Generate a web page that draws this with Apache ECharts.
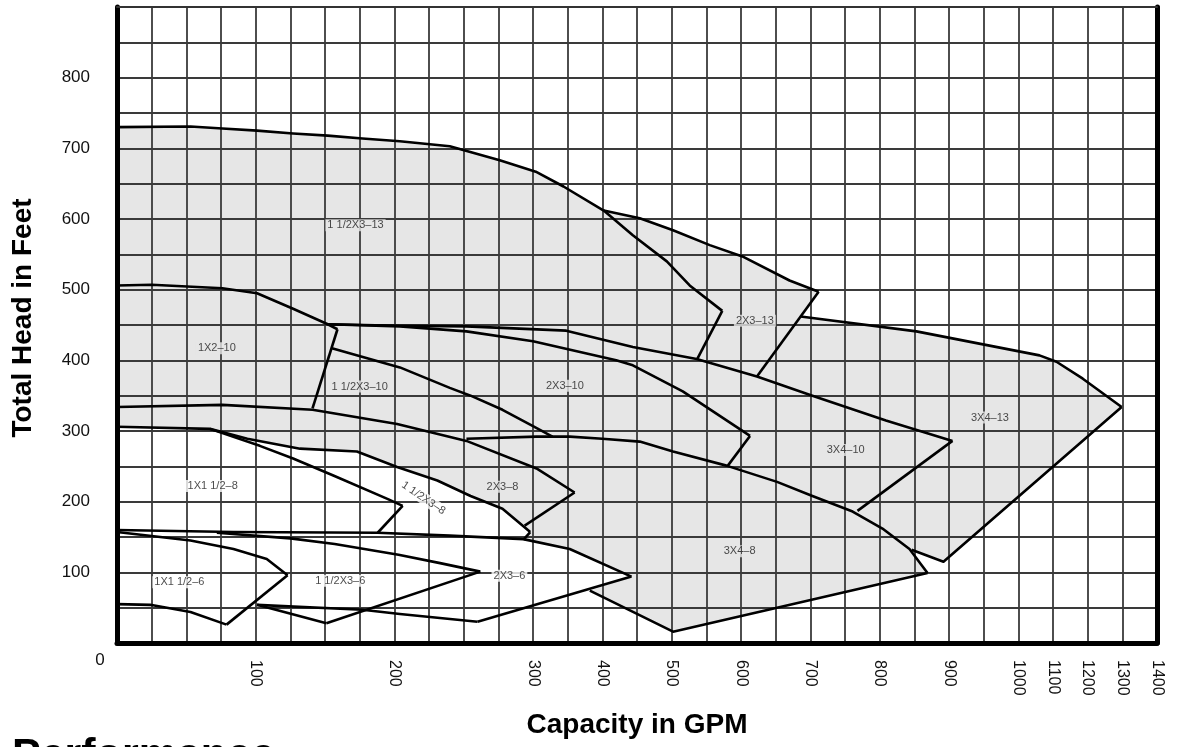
<!DOCTYPE html>
<html>
<head>
<meta charset="utf-8">
<script src="https://cdn.jsdelivr.net/npm/echarts@6/dist/echarts.min.js"></script>
<style>
html,body{margin:0;padding:0;background:#fff;}
#chart{width:1177px;height:747px;}
</style>
</head>
<body>
<div id="chart"></div>
<script>
// ---------- tick labels ----------
const xTickLabels = [100,200,300,400,500,600,700,800,900,1000,1100,1200,1300,1400];
const yTickLabels = [100,200,300,400,500,600,700,800];

// ---------- pump curves  [capacity GPM, total head ft] ----------
// max-impeller (h), end-of-curve (e) and min-impeller (l) lines
const h15x3_13 = [[0,730],[53,731],[76,728],[101,725],[127,721],[152,718],[177,714],[204,710],[240,703],[276,683],[304,667],[344,646],[402,612],[444,577],[493,540],[526,506],[573,470]];
const e15x3_13 = [[573,470],[537,402]];
const h2x3_13  = [[402,612],[454,601],[502,584],[555,563],[602,547],[670,513],[712,497]];
const e2x3_13  = [[712,497],[623,377]];
const h3x4_10  = [[152,451],[204,449],[252,448],[348,442],[444,419],[536,402],[623,377],[703,350],[809,315],[905,286]];
const e3x4_10  = [[905,286],[768,187]];
const h3x4_13  = [[686,462],[853,441],[1061,407],[1110,398],[1186,374],[1298,334]];
const e3x4_13  = [[1298,334],[892,115],[846,132]];
const h3x4_8   = [[252,289],[305,292],[353,292],[400,289],[454,285],[502,271],[579,251],[652,228],[703,208],[761,186],[804,162],[843,133],[869,99]];
const e3x4_8   = [[869,99],[502,16],[382,74]];
const h2x3_10  = [[152,451],[204,448],[252,441],[300,427],[420,400],[444,393],[516,356],[613,293]];
const e2x3_10  = [[613,293],[581,251]];
const h1x2_10  = [[0,506],[25,507],[76,502],[101,495],[127,473],[152,451],[159,444]];
const e1x2_10  = [[159,444],[141,332]];
const h15x3_10 = [[155,417],[204,390],[240,361],[255,350],[278,330],[300,307],[328,292]];
const h2x3_8   = [[0,334],[76,337],[141,330],[202,310],[252,286],[305,247],[360,213]];
const e2x3_8   = [[360,213],[294,166]];
const h15x3_8  = [[0,306],[67,303],[94,289],[132,275],[173,271],[202,249],[231,230],[255,208],[278,190],[298,157]];
const e15x3_8  = [[298,157],[293,146]];
const h1x15_8  = [[67,303],[103,279],[127,261],[156,237],[195,204],[206,194]];
const e1x15_8  = [[206,194],[188,156]];
const h2x3_6   = [[0,160],[84,157],[188,156],[240,152],[293,147],[353,133],[442,94]];
const e2x3_6   = [[442,94],[260,30]];
const l2x3_6   = [[260,30],[204,41],[177,47],[101,54]];
const h15x3_6  = [[72,156],[125,148],[157,140],[203,125],[233,113],[262,101]];
const e15x3_6  = [[262,101],[151,28]];
const l15x3_6  = [[151,28],[101,54]];
const h1x15_6  = [[0,157],[53,145],[84,133],[108,119],[123,96]];
const e1x15_6  = [[123,96],[79,26]];
const l1x15_6  = [[0,55],[24,54],[53,44],[79,26]];

// ---------- model names and where they are written [GPM, ft] ----------
const modelNames  = ['1 1/2X3–13','1X2–10','1 1/2X3–10','2X3–10','2X3–13','3X4–13','3X4–10','3X4–8','2X3–8','1 1/2X3–8','1X1 1/2–8','1X1 1/2–6','1 1/2X3–6','2X3–6'];
const modelAnchor = [[172,591],[72,417],[175,363],[346,364],[620,456],[959,319],[751,273],[598,130],[278,221],[221,205],[69,222],[45,86],[161,88],[283,95]];

// ---------- piece-wise capacity scale used by the chart's grid ----------
function gpmToCol(g){
  if (g <= 300) return g / 25;
  if (g <= 1000) return 12 + (g - 300) / 50;
  return 26 + (g - 1000) / 100;
}
function colToGpm(c){
  if (c <= 12) return c * 25;
  if (c <= 26) return 300 + (c - 12) * 50;
  return 1000 + (c - 26) * 100;
}

// shaded coverage outline, assembled from the curves above
const greyArea = [].concat(
  h15x3_13.slice(0, 13),
  h2x3_13.slice(1),
  h3x4_13,
  e3x4_13.slice(1),
  h3x4_8.slice(-1),
  e3x4_8.slice(1),
  h2x3_6.slice(-1),
  h2x3_6.slice(4, 6).reverse(),
  h15x3_8.slice().reverse()
);

const curveList = [h15x3_13,e15x3_13,h2x3_13,e2x3_13,h3x4_10,e3x4_10,h3x4_13,e3x4_13,h3x4_8,e3x4_8,
  h2x3_10,e2x3_10,h1x2_10,e1x2_10,h15x3_10,h2x3_8,e2x3_8,h15x3_8,e15x3_8,h1x15_8,e1x15_8,
  h2x3_6,e2x3_6,l2x3_6,h15x3_6,e15x3_6,l15x3_6,h1x15_6,e1x15_6,l1x15_6];

const whiteLabelSet = new Set(['1 1/2X3–8','1X1 1/2–8','1X1 1/2–6','1 1/2X3–6','2X3–6']);
const FONT = '"Liberation Sans", Arial, Helvetica, sans-serif';
const GRID_COLOR = '#3a3a3a';

const chart = echarts.init(document.getElementById('chart'), null, {renderer:'canvas'});

const series = [];
series.push({
  type: 'custom',
  z: 1,
  silent: true,
  data: [[0, 0]],
  renderItem: function(params, api){
    return {
      type: 'polygon',
      shape: { points: greyArea.map(p => api.coord([gpmToCol(p[0]), p[1]])) },
      style: { fill: '#e6e6e6', stroke: null }
    };
  }
});
curveList.forEach(c => {
  series.push({
    type: 'line',
    z: 6,
    silent: true,
    symbol: 'none',
    smooth: false,
    data: c.map(p => [gpmToCol(p[0]), p[1]]),
    lineStyle: { color: '#000', width: 2.6, join: 'round' }
  });
});
series.push({
  type: 'scatter',
  z: 8,
  silent: true,
  symbolSize: 0,
  data: modelNames.map((n, i) => ({
    name: n,
    value: [gpmToCol(modelAnchor[i][0]), modelAnchor[i][1]],
    label: {
      backgroundColor: whiteLabelSet.has(n) ? '#ffffff' : '#e6e6e6',
      rotate: n === '1 1/2X3–8' ? -34 : 0
    }
  })),
  label: {
    show: true,
    position: 'inside',
    formatter: '{b}',
    fontFamily: FONT,
    fontSize: 11,
    color: '#1a1a1a',
    padding: [1, 2, 0, 2]
  }
});

const option = {
  animation: false,
  backgroundColor: '#ffffff',
  grid: { left: 117, right: 20, top: 7, bottom: 104, containLabel: false },
  xAxis: [{
    type: 'value', min: 0, max: 30, interval: 1, z: 3,
    axisLine: { show: true, onZero: false, lineStyle: { color: '#000', width: 5 } },
    axisTick: { show: false },
    splitLine: { show: true, lineStyle: { color: GRID_COLOR, width: 1.8 } },
    axisLabel: {
      rotate: -90, margin: 17, fontSize: 16, fontFamily: FONT, color: '#111',
      formatter: function(v){
        const g = Math.round(colToGpm(v));
        return xTickLabels.indexOf(g) >= 0 ? String(g) : '';
      }
    }
  }, {
    type: 'value', min: 0, max: 30, position: 'top', z: 3,
    axisLine: { show: true, onZero: false, lineStyle: { color: '#333', width: 2 } },
    axisTick: { show: false }, axisLabel: { show: false }, splitLine: { show: false }
  }],
  yAxis: [{
    type: 'value', min: 0, max: 900, interval: 50, z: 3,
    axisLine: { show: true, onZero: false, lineStyle: { color: '#000', width: 5 } },
    axisTick: { show: false },
    splitLine: { show: true, lineStyle: { color: GRID_COLOR, width: 1.8 } },
    axisLabel: {
      margin: 27, fontSize: 17, fontFamily: FONT, color: '#111',
      formatter: function(v){ return yTickLabels.indexOf(v) >= 0 ? String(v) : ''; }
    }
  }, {
    type: 'value', min: 0, max: 900, position: 'right', z: 3,
    axisLine: { show: true, onZero: false, lineStyle: { color: '#000', width: 5 } },
    axisTick: { show: false }, axisLabel: { show: false }, splitLine: { show: false }
  }],
  graphic: [
    { type: 'text', x: 100, y: 660, z: 10,
      style: { text: '0', font: '17px ' + FONT, fill: '#111', align: 'center', verticalAlign: 'middle', textAlign: 'center', textVerticalAlign: 'middle' } },
    { type: 'text', x: 23, y: 318, rotation: Math.PI / 2, z: 10,
      style: { text: 'Total Head in Feet', font: 'bold 28px ' + FONT, fill: '#000', align: 'center', verticalAlign: 'middle', textAlign: 'center', textVerticalAlign: 'middle' } },
    { type: 'text', x: 637, y: 725, z: 10,
      style: { text: 'Capacity in GPM', font: 'bold 28px ' + FONT, fill: '#000', align: 'center', verticalAlign: 'middle', textAlign: 'center', textVerticalAlign: 'middle' } },
    { type: 'text', x: 12, y: 756, z: 10,
      style: { text: 'Performance', font: '900 43px ' + FONT, fill: '#000', align: 'left', verticalAlign: 'middle', textAlign: 'left', textVerticalAlign: 'middle' } }
  ],
  series: series
};
chart.setOption(option);
</script>
</body>
</html>
